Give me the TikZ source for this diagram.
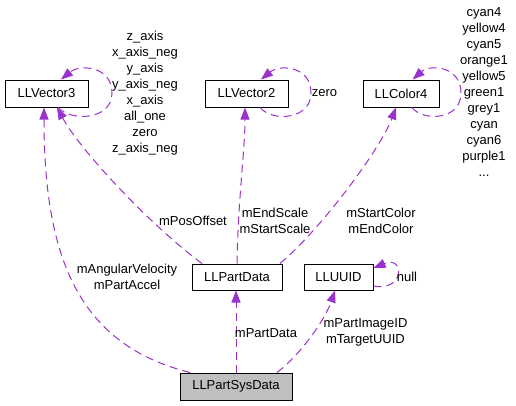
\documentclass[tikz,border=0pt]{standalone}
\usepackage{fontspec}
\setmainfont{Liberation Sans}
\usetikzlibrary{arrows.meta}
\definecolor{edgec}{HTML}{9A32CD}
\definecolor{boxgray}{HTML}{BFBFBF}
\begin{document}
\begin{tikzpicture}[x=1pt,y=-1pt,
  box/.style={draw=black, line width=1pt, inner sep=0pt, minimum height=27pt, font=\fontsize{13}{16}\selectfont},
  lbl/.style={inner sep=0pt, align=center, font=\fontsize{13}{16}\selectfont},
  rel/.style={draw=edgec, line width=1pt, dash pattern=on 8pt off 5pt, -{Triangle[length=12pt,width=9pt]}},
]
\useasboundingbox (0,0) rectangle (516,405);
\fill[white] (0,0) rectangle (516,405);
% nodes
\node[box, minimum width=83pt] (v3) at (46.5,93.5) {LLVector3};
\node[box, minimum width=83pt] (v2) at (246.5,93.5) {LLVector2};
\node[box, minimum width=76pt] (c4) at (401,93.5) {LLColor4};
\node[box, minimum width=90pt, minimum height=26pt] (pd) at (237,277) {LLPartData};
\node[box, minimum width=69pt, minimum height=26pt] (uuid) at (338.5,277) {LLUUID};
\node[box, minimum width=112pt, fill=boxgray] (sys) at (236,386.5) {LLPartSysData};
% edges
\draw[rel] ([xshift=-46pt]sys.north) .. controls (80,345) and (44,260) .. ([xshift=-2.5pt]v3.south);
\draw[rel] ([xshift=-35pt]pd.north) .. controls (150,225) and (80,150) .. ([xshift=10.5pt]v3.south);
\draw[rel] (pd.north) .. controls (238,200) and (245,150) .. ([xshift=-1.5pt]v2.south);
\draw[rel] ([xshift=43pt]pd.north) .. controls (320,230) and (380,150) .. ([xshift=-5pt]c4.south);
\draw[rel] (sys.north) -- ([xshift=-1pt]pd.south);
\draw[rel] ([xshift=41pt]sys.north) .. controls (300,355) and (325,320) .. ([xshift=-3.5pt]uuid.south);
% self loops
\draw[rel] ([xshift=11.5pt]v3.south) .. controls (72,122) and (112,120) .. (112,93) .. controls (112,66) and (80,64) .. ([xshift=14.5pt]v3.north);
\draw[rel] ([xshift=13.5pt]v2.south) .. controls (272,122) and (311,120) .. (311,93) .. controls (311,66) and (280,64) .. ([xshift=14.5pt]v2.north);
\draw[rel] ([xshift=10.7pt]c4.south) .. controls (424,122) and (461,120) .. (461,93) .. controls (461,66) and (430,64) .. ([xshift=11.7pt]c4.north);
\draw[rel] ([yshift=-9pt]uuid.east) .. controls (405,292) and (405,255) .. ([yshift=9pt]uuid.east);
% labels
\node[lbl] (l1) at (145,93) {z\_axis\\x\_axis\_neg\\y\_axis\\y\_axis\_neg\\x\_axis\\all\_one\\zero\\z\_axis\_neg};
\node[lbl] (l2) at (324.5,93) {zero};
\node[lbl] (l3) at (484,92) {cyan4\\yellow4\\cyan5\\orange1\\yellow5\\green1\\grey1\\cyan\\cyan6\\purple1\\...};
\node[lbl] (l4) at (193,221) {mPosOffset};
\node[lbl] (l5) at (275,221) {mEndScale\\mStartScale};
\node[lbl] (l6) at (381,220.5) {mStartColor\\mEndColor};
\node[lbl] (l7) at (127,277) {mAngularVelocity\\mPartAccel};
\node[lbl] (l8) at (266,333) {mPartData};
\node[lbl] (l9) at (365.5,332.5) {mPartImageID\\mTargetUUID};
\node[lbl] (l10) at (407,277) {null};
\end{tikzpicture}
\end{document}
